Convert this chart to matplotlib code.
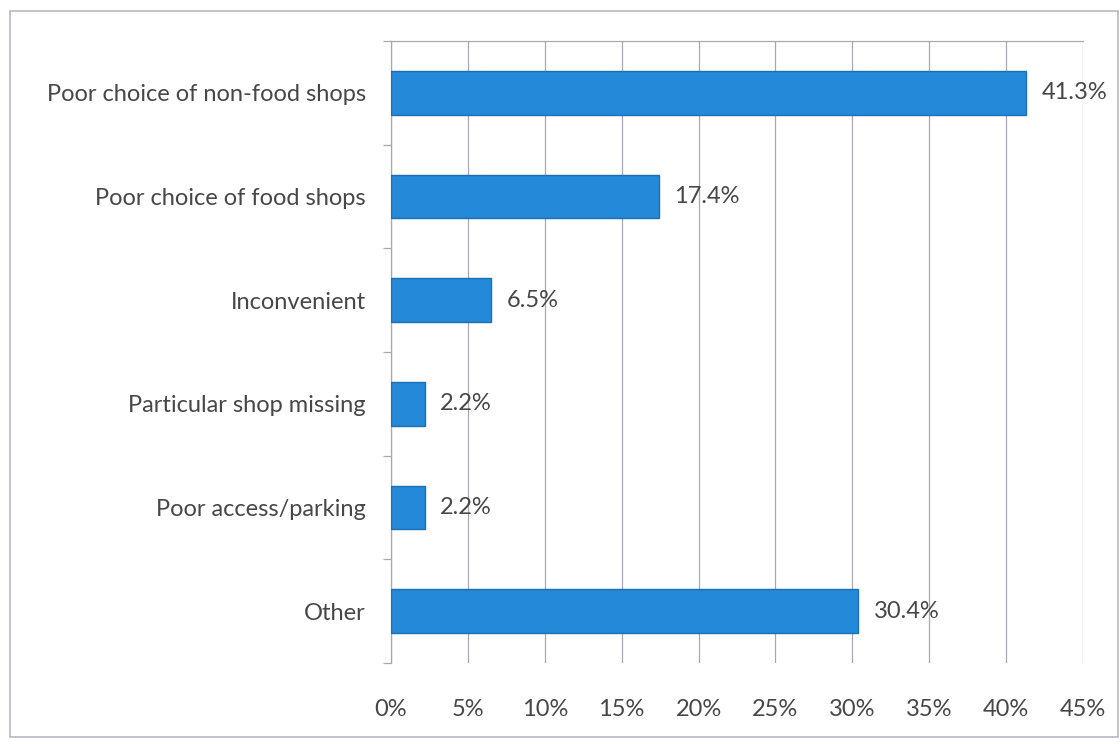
import numpy as np
import matplotlib.pyplot as plt
from matplotlib.patches import Rectangle

categories = ['Poor choice of non-food shops', 'Poor choice of food shops',
              'Inconvenient', 'Particular shop missing', 'Poor access/parking', 'Other']
values = [41.3, 17.4, 6.5, 2.2, 2.2, 30.4]
xticks = [0, 5, 10, 15, 20, 25, 30, 35, 40, 45]

plt.rcParams['font.family'] = ['Lato', 'DejaVu Sans']
txt = '#474747'
grid = '#a8a8b4'
fs = 17

fig = plt.figure(figsize=(11.2, 7.44), dpi=100)
# outer chart border
fig.patches.append(Rectangle((10/1120, 0.01), 1 - 10/1120 - 0.002, 1 - 11/744 - 0.01,
                             transform=fig.transFigure, fill=False,
                             edgecolor='#b8b8c4', lw=1.2))

ax = fig.add_axes([391/1120, 1 - 663/744, (1083 - 391)/1120, (663 - 41)/744])

n = len(categories)
ypos = np.arange(n)
ax.barh(ypos, values, height=0.42, color='#2489d8', edgecolor='#1a6fb8', lw=1.0, zorder=3)
for y, v in zip(ypos, values):
    ax.text(v + 1.0, y, f'{v:.1f}%', va='center', ha='left', fontsize=fs, color=txt, zorder=4)

ax.set_xlim(0, 45)
ax.set_ylim(n - 0.5, -0.5)
ax.set_xticks(xticks)
ax.set_xticklabels([f'{t}%' for t in xticks], fontsize=fs, color=txt)
ax.tick_params(axis='x', length=0, pad=26)
ax.grid(axis='x', color=grid, lw=0.9, zorder=0)

ax.set_yticks(ypos)
ax.set_yticklabels(categories, fontsize=fs, color=txt)
ax.tick_params(axis='y', which='major', length=0, pad=18)
ax.set_yticks(np.arange(n + 1) - 0.5, minor=True)
ax.tick_params(axis='y', which='minor', length=6, color=grid, width=0.9)

for s in ['bottom', 'right']:
    ax.spines[s].set_visible(False)
for s in ['left', 'top']:
    ax.spines[s].set_color(grid)
    ax.spines[s].set_linewidth(0.9)

fig.savefig('out.png', dpi=100)
